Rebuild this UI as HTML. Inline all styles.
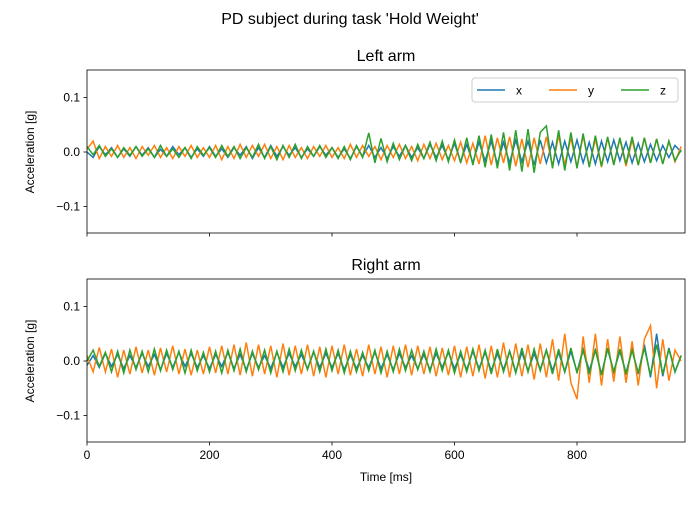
<!DOCTYPE html>
<html><head><meta charset="utf-8"><style>
body{margin:0;background:#fff}
svg{font-family:"Liberation Sans","DejaVu Sans",sans-serif}
</style></head><body>
<svg id="c" width="700" height="500" viewBox="0 0 700 500"></svg>
<script>
const dt = 10;
const xTicks = [0,200,400,600,800];
const yTicks = [0.1,0.0,-0.1];
const yTickLabels = ["0.1","0.0","−0.1"];
const seriesNames = ["x","y","z"];
const leftX = [0.00,-0.01,0.01,-0.005,0.008,-0.01,0.006,-0.008,0.01,-0.006,0.008,-0.01,0.005,-0.008,0.01,-0.005,0.008,-0.01,0.006,-0.008,
0.01,-0.008,0.006,-0.01,0.008,-0.006,0.01,-0.012,0.008,-0.01,0.012,-0.008,0.01,-0.006,0.008,-0.01,0.006,-0.008,0.01,-0.006,
0.008,-0.01,0.006,-0.012,0.01,-0.008,0.012,-0.01,0.008,-0.012,0.01,-0.008,0.012,-0.01,0.008,-0.012,0.014,-0.01,0.012,-0.014,
0.016,-0.018,0.014,-0.02,0.018,-0.016,0.02,-0.022,0.018,-0.02,0.022,-0.018,0.02,-0.024,0.022,-0.02,0.018,-0.022,0.02,-0.018,
0.022,-0.02,0.018,-0.022,0.02,-0.018,0.022,-0.016,0.018,-0.02,0.016,-0.018,0.014,-0.016,0.012,-0.01,0.012,0.0];
const leftY = [0.005,0.02,-0.012,0.01,-0.008,0.012,-0.01,0.008,-0.012,0.01,-0.006,0.012,-0.01,0.008,-0.012,0.01,-0.008,0.012,-0.01,0.008,
-0.01,0.012,-0.014,0.01,-0.012,0.014,-0.01,0.012,-0.008,0.014,-0.012,0.01,-0.014,0.012,-0.01,0.008,-0.012,0.01,-0.008,0.012,
-0.01,0.008,-0.012,0.014,-0.01,0.012,-0.008,0.01,-0.014,0.012,-0.01,0.014,-0.012,0.01,-0.016,0.014,-0.012,0.016,-0.014,0.012,
-0.016,0.018,-0.02,0.016,-0.022,0.03,-0.024,0.026,-0.02,0.028,-0.026,0.024,-0.028,0.026,-0.022,0.028,-0.026,0.03,-0.024,0.026,
-0.028,0.03,-0.026,0.024,-0.028,0.026,-0.022,0.024,-0.026,0.022,-0.024,0.026,-0.02,0.024,-0.022,0.02,-0.018,0.01];
const leftZ = [0.01,-0.005,0.012,-0.008,0.006,-0.01,0.008,-0.006,0.01,-0.008,0.006,-0.01,0.012,-0.008,0.006,-0.01,0.008,-0.012,0.01,-0.006,
0.008,-0.01,0.012,-0.008,0.01,-0.012,0.008,-0.01,0.014,-0.012,0.01,-0.014,0.012,-0.01,0.014,-0.012,0.01,-0.008,0.012,-0.01,
0.008,-0.012,0.01,-0.014,0.012,-0.01,0.035,-0.02,0.025,-0.018,0.016,-0.014,0.012,-0.016,0.014,-0.012,0.018,-0.016,0.02,-0.018,
0.022,-0.02,0.026,-0.024,0.03,-0.028,0.032,-0.03,0.036,-0.034,0.04,-0.036,0.042,-0.038,0.036,0.048,-0.03,0.04,-0.034,0.036,
-0.03,0.034,-0.028,0.03,-0.026,0.028,-0.024,0.026,-0.022,0.028,-0.024,0.026,-0.02,0.024,-0.022,0.02,-0.016,0.004];
const rightX = [-0.008,0.01,-0.012,0.014,-0.01,0.012,-0.014,0.01,-0.012,0.014,-0.01,0.012,-0.016,0.014,-0.012,0.016,-0.01,0.014,-0.012,0.01,
-0.014,0.012,-0.01,0.016,-0.014,0.012,-0.016,0.014,-0.012,0.01,-0.014,0.016,-0.012,0.014,-0.01,0.012,-0.014,0.016,-0.012,0.014,
-0.012,0.014,-0.016,0.012,-0.014,0.01,-0.012,0.016,-0.014,0.012,-0.016,0.014,-0.012,0.01,-0.014,0.012,-0.016,0.014,-0.012,0.016,
-0.014,0.012,-0.016,0.018,-0.014,0.016,-0.018,0.014,-0.016,0.018,-0.02,0.016,-0.018,0.014,-0.016,0.02,-0.018,0.016,-0.02,0.018,
-0.02,0.022,-0.018,0.02,-0.024,0.022,-0.02,0.018,-0.022,0.02,-0.024,0.03,-0.03,0.05,-0.028,0.024,-0.02,0.01];
const rightY = [0.01,-0.02,0.025,-0.02,0.022,-0.03,0.02,-0.024,0.026,-0.022,0.02,-0.026,0.024,-0.02,0.028,-0.024,0.022,-0.026,0.02,-0.024,
0.026,-0.022,0.028,-0.024,0.03,-0.026,0.034,-0.028,0.03,-0.024,0.028,-0.03,0.032,-0.026,0.028,-0.024,0.03,-0.028,0.026,-0.03,
0.028,-0.024,0.03,-0.026,0.022,-0.028,0.03,-0.024,0.026,-0.03,0.028,-0.024,0.03,-0.026,0.028,-0.024,0.026,-0.028,0.024,-0.026,
0.028,-0.03,0.026,-0.028,0.03,-0.032,0.028,-0.03,0.034,-0.03,0.032,-0.028,0.03,-0.034,0.032,-0.03,0.04,-0.036,0.05,-0.04,
-0.07,0.045,-0.04,0.05,-0.045,0.04,-0.038,0.045,-0.04,0.036,-0.045,0.04,0.065,-0.05,0.04,-0.036,0.02,0.0];
const rightZ = [0.0,0.02,-0.01,0.016,-0.02,0.018,-0.022,0.02,-0.016,0.018,-0.02,0.022,-0.018,0.02,-0.016,0.018,-0.022,0.02,-0.018,0.016,
-0.02,0.018,-0.022,0.02,-0.018,0.022,-0.02,0.018,-0.016,0.02,-0.022,0.018,-0.02,0.022,-0.018,0.02,-0.016,0.018,-0.02,0.022,
-0.018,0.02,-0.022,0.018,-0.02,0.016,-0.018,0.02,-0.022,0.018,-0.02,0.022,-0.018,0.02,-0.016,0.018,-0.02,0.022,-0.018,0.02,
-0.022,0.018,-0.02,0.022,-0.018,0.02,-0.024,0.022,-0.02,0.018,-0.022,0.024,-0.02,0.022,-0.018,0.02,-0.024,0.022,-0.02,0.024,
-0.022,0.02,-0.024,0.022,-0.026,0.024,-0.02,0.022,-0.024,0.02,-0.022,0.024,-0.026,0.03,-0.024,0.022,-0.02,0.01];
const colors = ["#1f77b4","#ff7f0e","#2ca02c"];
const NS = "http://www.w3.org/2000/svg";
const svg = document.getElementById("c");
function mk(tag, attrs, parent){const e=document.createElementNS(NS,tag);for(const k in attrs)e.setAttribute(k,attrs[k]);(parent||svg).appendChild(e);return e;}
const X0=87,X1=685,xMax=(X1-X0)/0.6125;
function xScale(t){return X0+t*0.6125;}
function panel(top,title,data,showXLabels,legend,key){
  const bot=top+163;
  const yScale=v=>top+82-v*545;
  const g=mk("g",{});
  
  
  const clipId="clip"+key;
  const cp=mk("clipPath",{id:clipId},g);mk("rect",{x:X0,y:top,width:X1-X0,height:163},cp);
  data.forEach((arr,si)=>{
    const d=arr.map((v,i)=>(i?"L":"M")+xScale(i*dt).toFixed(2)+","+yScale(v).toFixed(2)).join("");
    const p=mk("path",{d:d,fill:"none",stroke:colors[si],"stroke-width":1.5,"clip-path":"url(#"+clipId+")"},g);
    
    
  });
  const fr=mk("rect",{x:X0,y:top,width:X1-X0,height:163,fill:"none",stroke:"#000","stroke-width":0.8},g);
  
  
  yTicks.forEach((v,i)=>{
    const y=yScale(v);
    mk("line",{x1:X0-3.5,x2:X0,y1:y,y2:y,stroke:"#000","stroke-width":0.8},g);
    const t=mk("text",{x:X0-7,y:y+4,"text-anchor":"end","font-size":12},g);t.textContent=yTickLabels[i];
    
    
  });
  xTicks.forEach(v=>{
    const x=xScale(v);
    mk("line",{x1:x,x2:x,y1:bot,y2:bot+3.5,stroke:"#000","stroke-width":0.8},g);
    if(showXLabels){const t=mk("text",{x:x,y:bot+17,"text-anchor":"middle","font-size":12},g);t.textContent=v;
      
      }
  });
  const tt=mk("text",{x:(X0+X1)/2,y:top-9,"text-anchor":"middle","font-size":16},g);tt.textContent=title;
  
  
  const yl=mk("text",{x:0,y:0,"text-anchor":"middle","font-size":12,transform:"translate(34,"+(top+82)+") rotate(-90)"},g);yl.textContent="Acceleration [g]";
  
  
  if(legend){
    const lg=mk("g",{},g);
    
    
    mk("rect",{x:472,y:78,width:206,height:24,rx:3,fill:"#fff","fill-opacity":0.8,stroke:"#ccc"},lg);
    seriesNames.forEach((n,i)=>{
      const lx=477+i*72;
      const e=mk("g",{},lg);
      
      
      mk("line",{x1:lx,x2:lx+28,y1:90,y2:90,stroke:colors[i],"stroke-width":1.5},e);
      const t=mk("text",{x:lx+39,y:94.5,"font-size":12},e);t.textContent=n;
    });
  }
}
const st=mk("text",{x:350,y:24,"text-anchor":"middle","font-size":16});st.textContent="PD subject during task 'Hold Weight'";


panel(70,"Left arm",[leftX,leftY,leftZ],false,true,"left-arm");
panel(279,"Right arm",[rightX,rightY,rightZ],true,false,"right-arm");
const xl=mk("text",{x:386,y:481,"text-anchor":"middle","font-size":12});xl.textContent="Time [ms]";


</script>
</body></html>
